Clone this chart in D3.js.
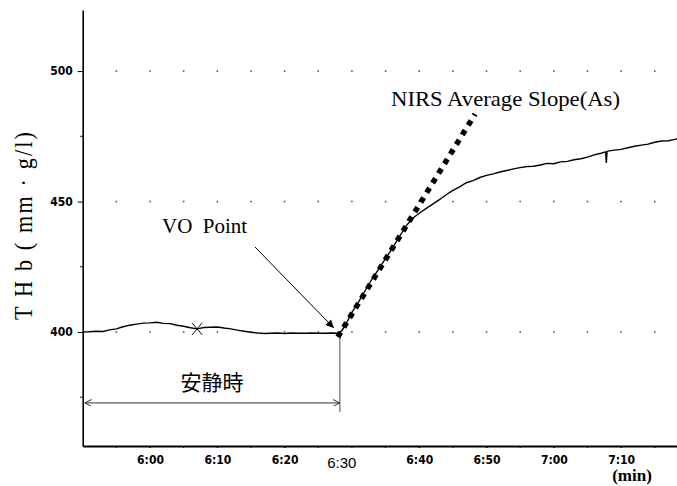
<!DOCTYPE html>
<html><head><meta charset="utf-8">
<script src="https://cdn.jsdelivr.net/npm/d3@7"></script>
<style>
html,body{margin:0;padding:0;background:#fff;}
svg{display:block;}
</style></head>
<body>
<svg id="chart" width="677" height="486"></svg>
<script>
// ---- data (minutes since 0:00, THb) ----
const times = [350,351,352,353,354,355,356,357,358,359,360,361,362,363,364,365,366,367,368,369,370,371,372,373,374,375,376,377,378,379,380,381,382,383,384,385,386,387,388,
  388.5,389,389.5,390,391,392,393,394,395,396,397,398,399,400,401,402,403,404,405,406,407,408,409,410,411,412,413,414,415,416,417,418,419,420,421,422,423,424,425,426,427,427.7,427.8,427.9,428,429,430,431,432,433,434,435,436,437,438,438.3];
const thb = [400.0,400.1,400.3,400.2,400.8,401.2,402.0,402.6,403.0,403.4,403.5,403.7,403.3,403.2,402.6,402.2,401.6,401.2,401.7,401.8,401.9,401.5,401.2,400.7,400.3,399.9,399.6,399.4,399.5,399.6,399.4,399.6,399.5,399.5,399.6,399.5,399.5,399.6,399.5,
  400.5,402.5,405.0,407.5,411.5,416.0,420.3,424.2,428.2,432.0,436.3,440.5,443.5,445.5,447.3,449.0,450.7,452.6,454.3,455.6,457.2,458.0,459.2,460.0,460.6,461.3,461.9,462.5,463.0,463.4,463.5,464.0,464.6,464.5,465.2,465.4,466.0,466.4,467.0,467.9,468.5,469.0,464.8,469.0,469.3,469.7,470.0,470.6,471.2,471.6,472.0,472.7,473.2,473.3,473.8,474.1];

// average slope line (endpoints)
const slopeTimes = [387.9, 408.3];
const slopeThb = [398.1, 483.5];

// VO point and marker
const voTime = 388.2, voThb = 400;
const markTime = 367.0, markThb = 401.2;

// axis ticks
const xTickVals = [360,370,380,400,410,420,430];
const xTickLabels = ["6:00","6:10","6:20","6:40","6:50","7:00","7:10"];
const xMinorVals = [355,360,365,370,375,380,385,390,395,400,405,410,415,420,425,430,435];
const yTickVals = [400,450,500];
const yMinorVals = [375,425,475];
const gridRows = [400,450,500];

// ---- drawing ----
const svg = d3.select("#chart");
const x = d3.scaleLinear().domain([350, 438.3]).range([82.7, 677]);
const y = d3.scaleLinear().domain([356.3, 523.4]).range([446, 10]);

// grid dots
const gridPts = [];
gridRows.forEach(r => xMinorVals.forEach(t => gridPts.push([t, r])));
svg.append("g").selectAll("rect").data(gridPts).join("rect")
  .attr("x", d => x(d[0]) - 0.75).attr("y", d => y(d[1]) - 0.75)
  .attr("width", 1.5).attr("height", 1.5).attr("fill", "#444");

// y axis
const yAxis = d3.axisLeft(y).tickValues(yTickVals).tickSize(5).tickSizeOuter(0).tickPadding(5)
  .tickFormat(d3.format("d"));
const gy = svg.append("g").attr("transform", "translate(82.7,0)").call(yAxis);
gy.select(".domain").attr("stroke-width", 1.6);
gy.selectAll("text").attr("font-family", "'Liberation Sans Narrow','DejaVu Sans Condensed',sans-serif")
  .attr("font-weight", "bold").attr("font-size", 12).attr("fill", "#000");
gy.append("g").selectAll("line").data(yMinorVals).join("line")
  .attr("x1", -2.5).attr("x2", 0).attr("y1", d => y(d)).attr("y2", d => y(d)).attr("stroke", "#000");

// x axis
const xAxis = d3.axisBottom(x).tickValues(xTickVals).tickSize(2).tickSizeOuter(0).tickPadding(7)
  .tickFormat((d, i) => xTickLabels[i]);
const gx = svg.append("g").attr("transform", "translate(0,446)").call(xAxis);
gx.select(".domain").attr("stroke-width", 2);
gx.selectAll("text").attr("font-family", "'Liberation Sans Narrow','DejaVu Sans Condensed',sans-serif")
  .attr("font-weight", "bold").attr("font-size", 12).attr("fill", "#000");
gx.append("g").selectAll("line").data(xMinorVals).join("line")
  .attr("x1", d => x(d)).attr("x2", d => x(d)).attr("y1", 0).attr("y2", 2).attr("stroke", "#000");

// special labels
svg.append("text").attr("x", x(388.5)).attr("y", 468).attr("text-anchor", "middle")
  .attr("font-family", "'Liberation Sans',Arial,sans-serif").attr("font-size", 15).text("6:30");
svg.append("text").attr("x", 632).attr("y", 481).attr("text-anchor", "middle")
  .attr("font-family", "'Liberation Serif','Times New Roman',serif").attr("font-weight", "bold")
  .attr("font-size", 17).text("(min)");

// y label
svg.append("text")
  .attr("transform", "translate(32,226) rotate(-90) scale(0.85,1)")
  .attr("text-anchor", "middle")
  .attr("font-family", "'Liberation Serif','Times New Roman',serif").attr("font-size", 26)
  .attr("textLength", 221).attr("lengthAdjust", "spacing")
  .text("T H b ( mm · g/l)");

// rest period annotation
const restY = 372.8;
svg.append("line").attr("x1", x(voTime)).attr("x2", x(voTime)).attr("y1", y(400)).attr("y2", y(369.3))
  .attr("stroke", "#888").attr("stroke-width", 1.5);
const defs = svg.append("defs");
defs.append("marker").attr("id", "open").attr("viewBox", "0 0 10 10").attr("refX", 10).attr("refY", 5)
  .attr("markerWidth", 7).attr("markerHeight", 7).attr("markerUnits", "userSpaceOnUse").attr("orient", "auto-start-reverse")
  .append("path").attr("d", "M0,0 L10,5 L0,10").attr("fill", "none").attr("stroke", "#222").attr("stroke-width", 1.3);
defs.append("marker").attr("id", "solid").attr("viewBox", "0 0 10 10").attr("refX", 10).attr("refY", 5)
  .attr("markerWidth", 9).attr("markerHeight", 8).attr("markerUnits", "userSpaceOnUse").attr("orient", "auto")
  .append("path").attr("d", "M0,0 L10,5 L0,10 Z").attr("fill", "#000");
svg.append("line").attr("x1", x(350.3)).attr("x2", x(voTime)).attr("y1", y(restY)).attr("y2", y(restY))
  .attr("stroke", "#333").attr("stroke-width", 1)
  .attr("marker-start", "url(#open)").attr("marker-end", "url(#open)");
svg.append("text").attr("x", x(369.2)).attr("y", 390).attr("text-anchor", "middle")
  .attr("font-family", "'Noto Sans CJK JP',sans-serif").attr("font-size", 21).text("安静時");

// data line
const line = d3.line().x((d, i) => x(times[i])).y((d, i) => y(thb[i]));
svg.append("path").attr("d", line(times)).attr("fill", "none").attr("stroke", "#000").attr("stroke-width", 1.4);

// x marker
const mx = x(markTime), my = y(markThb);
svg.append("path").attr("d", `M${mx-5},${my-6}L${mx+5},${my+6}M${mx+5},${my-6}L${mx-5},${my+6}`)
  .attr("stroke", "#000").attr("stroke-width", 1);

// slope line
svg.append("line").attr("x1", x(slopeTimes[0])).attr("y1", y(slopeThb[0]))
  .attr("x2", x(slopeTimes[1])).attr("y2", y(slopeThb[1]))
  .attr("stroke", "#000").attr("stroke-width", 5.5).attr("stroke-dasharray", "5.5,5.8");

// VO arrow
svg.append("line").attr("x1", 255).attr("y1", 247).attr("x2", x(voTime) - 6).attr("y2", y(voThb) - 4)
  .attr("stroke", "#000").attr("stroke-width", 1).attr("marker-end", "url(#solid)");
svg.append("text").attr("x", 162).attr("y", 233)
  .attr("font-family", "'Liberation Serif','Times New Roman',serif").attr("font-size", 21)
  .attr("xml:space", "preserve").text("VO  Point");
svg.append("text").attr("x", 391).attr("y", 106)
  .attr("font-family", "'Liberation Serif','Times New Roman',serif").attr("font-size", 21)
  .attr("textLength", 229).attr("lengthAdjust", "spacingAndGlyphs")
  .text("NIRS Average Slope(As)");
</script>
</body></html>
